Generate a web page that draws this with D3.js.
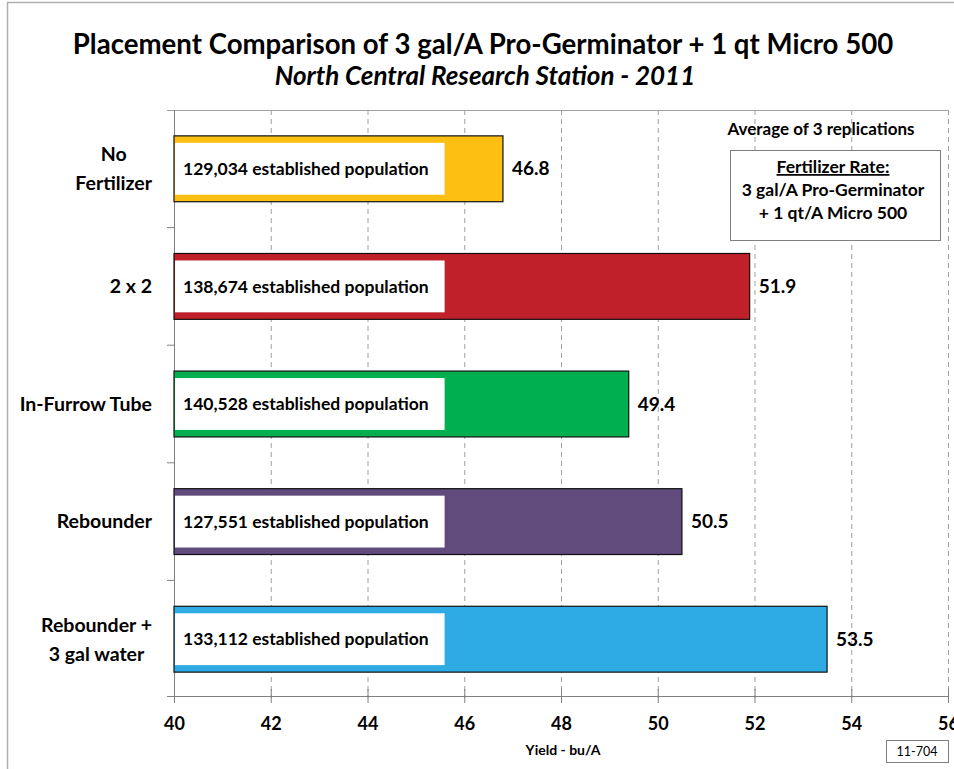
<!DOCTYPE html>
<html>
<head>
<meta charset="utf-8">
<script src="https://cdn.jsdelivr.net/npm/d3@7"></script>
<style>
  body { margin: 0; background: #fff; }
  text { font-family: Lato, "Open Sans", sans-serif; font-weight: bold; fill: #000; }
</style>
</head>
<body>
<div id="chartArea"></div>
<script>
var categories = ['No Fertilizer', '2 x 2', 'In-Furrow Tube', 'Rebounder', 'Rebounder + 3 gal water'];
var categoryLines = [['No', 'Fertilizer'], ['2 x 2'], ['In-Furrow Tube'], ['Rebounder'], ['Rebounder +', '3 gal water']];
var yields = [46.8, 51.9, 49.4, 50.5, 53.5];
var populations = ['129,034', '138,674', '140,528', '127,551', '133,112'];
var colors = ['#FDBF12', '#C0202A', '#00AF4F', '#604B7C', '#2EABE2'];
var xTicks = [40, 42, 44, 46, 48, 50, 52, 54, 56];

var w = 954, h = 769;
var margin = { top: 110, right: 6, bottom: 71, left: 174 };

var svg = d3.select('#chartArea').append('svg')
    .attr('width', w)
    .attr('height', h);

// outer chart border
svg.append('rect')
    .attr('x', 7.5).attr('y', 2.5)
    .attr('width', w).attr('height', h)
    .attr('fill', 'none').attr('stroke', '#b0b0b0').attr('stroke-width', 1.5);

var xScale = d3.scaleLinear()
    .domain([40, 56])
    .range([margin.left, w - margin.right]);

var yScale = d3.scaleBand()
    .domain(categories)
    .range([margin.top, h - margin.bottom])
    .paddingInner(0.44)
    .paddingOuter(0.22);

var plotTop = margin.top, plotBottom = h - margin.bottom;

// gridlines
svg.append('g').selectAll('line')
    .data(xTicks.slice(1))
    .enter().append('line')
    .attr('x1', function(d) { return xScale(d) + 0.5; })
    .attr('x2', function(d) { return xScale(d) + 0.5; })
    .attr('y1', plotTop).attr('y2', plotBottom)
    .attr('stroke', '#a0a0a0').attr('stroke-dasharray', '5,4');

// top border of plot
svg.append('line')
    .attr('x1', margin.left - 7).attr('x2', xScale(56))
    .attr('y1', plotTop + 0.5).attr('y2', plotTop + 0.5)
    .attr('stroke', '#a0a0a0');

// x axis
var xAxis = svg.append('g')
    .attr('transform', 'translate(0,' + (plotBottom - 2) + ')')
    .call(d3.axisBottom(xScale).tickValues(xTicks).tickSize(7).tickPadding(14));
xAxis.select('.domain').attr('stroke', '#808080').attr('d', 'M' + (margin.left - 7) + ',0.5H' + xScale(56));
xAxis.selectAll('.tick line').attr('stroke', '#808080').attr('y1', -7).attr('y2', 7);
xAxis.selectAll('.tick text').style('font-size', '18px').style('font-family', 'Lato, sans-serif').style('font-weight', 'bold').attr('fill', '#000');

// y axis line and category ticks
svg.append('line')
    .attr('x1', margin.left + 0.5).attr('x2', margin.left + 0.5)
    .attr('y1', plotTop).attr('y2', plotBottom)
    .attr('stroke', '#808080');
svg.append('g').selectAll('line')
    .data(categories.slice(1))
    .enter().append('line')
    .attr('x1', margin.left - 7).attr('x2', margin.left)
    .attr('y1', function(d) { return yScale(d) - yScale.step() * yScale.paddingInner() / 2; })
    .attr('y2', function(d) { return yScale(d) - yScale.step() * yScale.paddingInner() / 2; })
    .attr('stroke', '#808080');

// bars
svg.append('g').selectAll('rect')
    .data(categories)
    .enter().append('rect')
    .attr('x', xScale(40))
    .attr('y', function(d) { return yScale(d); })
    .attr('width', function(d, i) { return xScale(yields[i]) - xScale(40); })
    .attr('height', yScale.bandwidth())
    .attr('fill', function(d, i) { return colors[i]; })
    .attr('stroke', '#111').attr('stroke-width', 1.2);

// population label boxes
var popG = svg.append('g').selectAll('g')
    .data(categories)
    .enter().append('g');
popG.append('text')
    .attr('x', margin.left + 9)
    .attr('y', function(d) { return yScale(d) + yScale.bandwidth() / 2; })
    .attr('dy', '0.35em')
    .style('font-size', '17.5px')
    .text(function(d, i) { return populations[i] + ' established population'; });
popG.insert('rect', 'text')
    .attr('x', margin.left + 1)
    .attr('y', function(d) { return yScale(d) + 7; })
    .attr('height', yScale.bandwidth() - 14)
    .attr('width', function() { return this.parentNode.querySelector('text').getComputedTextLength() + 24; })
    .attr('fill', '#fff');

// value labels
svg.append('g').selectAll('text')
    .data(categories)
    .enter().append('text')
    .attr('x', function(d, i) { return xScale(yields[i]) + 9; })
    .attr('y', function(d) { return yScale(d) + yScale.bandwidth() / 2; })
    .attr('dy', '0.35em')
    .style('font-size', '19px')
    .text(function(d, i) { return yields[i].toFixed(1); });

// category labels: block right-aligned to the axis, lines centred in the block
var labelRight = margin.left - 22;
svg.append('g').selectAll('text')
    .data(categories)
    .enter().append('text')
    .attr('text-anchor', 'middle')
    .attr('y', function(d, i) {
        return yScale(d) + yScale.bandwidth() / 2 - (categoryLines[i].length - 1) * 14.5;
    })
    .style('font-size', '19.5px')
    .each(function(d, i) {
        var t = d3.select(this);
        var spans = categoryLines[i].map(function(line, j) {
            return t.append('tspan').attr('dy', j === 0 ? '0.35em' : 29).text(line);
        });
        var maxW = d3.max(spans, function(s) { return s.node().getComputedTextLength(); });
        spans.forEach(function(s) { s.attr('x', labelRight - maxW / 2); });
    });

// titles
svg.append('text')
    .attr('x', 483).attr('y', 54)
    .attr('text-anchor', 'middle')
    .style('font-size', '27.6px')
    .text('Placement Comparison of 3 gal/A Pro-Germinator + 1 qt Micro 500');
svg.append('text')
    .attr('x', 485).attr('y', 85)
    .attr('text-anchor', 'middle')
    .style('font-size', '26px').style('font-style', 'italic')
    .text('North Central Research Station - 2011');

// annotation
svg.append('text')
    .attr('x', 821).attr('y', 135)
    .attr('text-anchor', 'middle')
    .style('font-size', '17px')
    .text('Average of 3 replications');
svg.append('rect')
    .attr('x', 730.5).attr('y', 150.5).attr('width', 210).attr('height', 90)
    .attr('fill', '#fff').attr('stroke', '#808080');
var legendLines = ['Fertilizer Rate:', '3 gal/A Pro-Germinator', '+ 1 qt/A Micro 500'];
svg.append('g').selectAll('text')
    .data(legendLines)
    .enter().append('text')
    .attr('x', 833)
    .attr('y', function(d, i) { return 173 + i * 23; })
    .attr('text-anchor', 'middle')
    .style('font-size', '17.5px')
    .style('text-decoration', function(d, i) { return i === 0 ? 'underline' : null; })
    .text(function(d) { return d; });

// axis title
svg.append('text')
    .attr('x', 563).attr('y', 755)
    .attr('text-anchor', 'middle')
    .style('font-size', '14px')
    .text('Yield - bu/A');

// id box
svg.append('rect')
    .attr('x', 886.5).attr('y', 740.5).attr('width', 62).attr('height', 22)
    .attr('fill', '#fff').attr('stroke', '#808080');
svg.append('text')
    .attr('x', 917).attr('y', 756)
    .attr('text-anchor', 'middle')
    .style('font-size', '12.5px').style('font-weight', 'normal')
    .text('11-704');
</script>
</body>
</html>
